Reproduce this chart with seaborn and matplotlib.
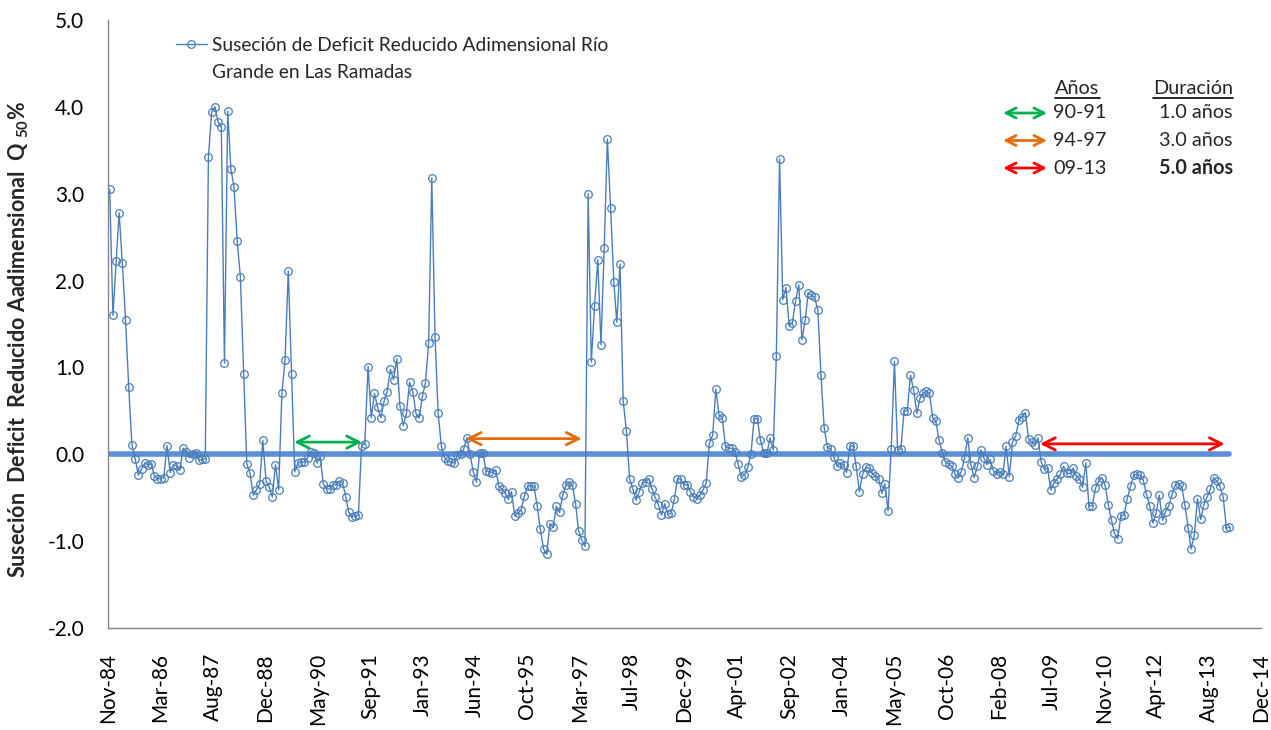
import pandas as pd
import matplotlib
matplotlib.use('Agg')
import matplotlib.pyplot as plt
import matplotlib.dates as mdates
import seaborn as sns

seg_84_87 = [3.05, 1.60, 2.23, 2.78, 2.20, 1.55, 0.77, 0.11, -0.05, -0.24, -0.17, -0.10, -0.12, -0.11,
             -0.25, -0.28, -0.28, -0.27, 0.10, -0.21, -0.12, -0.13, -0.18, 0.07, 0.03, -0.04, 0.00, 0.02,
             -0.07, -0.06, -0.05, 3.42, 3.94, 4.00, 3.83]
seg_87_90 = [3.77, 1.05, 3.95, 3.28, 3.08, 2.45, 2.04, 0.93, -0.11, -0.22, -0.47, -0.41, -0.34, 0.16,
             -0.31, -0.38, -0.49, -0.12, -0.41, 0.70, 1.09, 2.11, 0.93, -0.20, -0.10, -0.09, -0.09, -0.04,
             0.03, 0.01, -0.10, -0.02, -0.34, -0.40, -0.40]
seg_90_93 = [-0.35, -0.35, -0.31, -0.33, -0.49, -0.67, -0.72, -0.71, -0.70, 0.10, 0.12, 1.01, 0.42, 0.70,
             0.54, 0.42, 0.61, 0.72, 0.98, 0.86, 1.10, 0.56, 0.33, 0.47, 0.83, 0.72, 0.47, 0.42, 0.67,
             0.82, 1.28, 3.18, 1.35, 0.47, 0.09]
seg_93_96 = [-0.04, -0.08, -0.09, -0.10, -0.01, 0.00, 0.06, 0.19, 0.00, -0.20, -0.32, 0.01, 0.01, -0.19,
             -0.20, -0.21, -0.18, -0.37, -0.40, -0.44, -0.52, -0.43, -0.71, -0.68, -0.64, -0.48, -0.37,
             -0.36, -0.37, -0.60, -0.86, -1.09, -1.15, -0.80]
seg_96_99 = [-0.84, -0.60, -0.67, -0.47, -0.35, -0.32, -0.35, -0.57, -0.88, -0.99, -1.06, 3.00, 1.06, 1.71,
             2.24, 1.26, 2.37, 3.63, 2.84, 1.98, 1.52, 2.19, 0.61, 0.27, -0.28, -0.40, -0.53, -0.43, -0.33,
             -0.32, -0.28, -0.40, -0.49, -0.58, -0.70]
seg_99_02 = [-0.57, -0.69, -0.68, -0.52, -0.28, -0.29, -0.35, -0.35, -0.43, -0.49, -0.51, -0.47, -0.41,
             -0.33, 0.13, 0.22, 0.75, 0.45, 0.42, 0.09, 0.07, 0.07, 0.03, -0.11, -0.26, -0.24, -0.15, 0.00,
             0.41, 0.41, 0.16, 0.02, 0.01, 0.19]
seg_02_05 = [0.05, 1.13, 3.40, 1.78, 1.92, 1.48, 1.51, 1.77, 1.95, 1.32, 1.55, 1.86, 1.83, 1.81, 1.66,
             0.91, 0.30, 0.08, 0.06, -0.03, -0.14, -0.10, -0.12, -0.21, 0.09, 0.10, -0.14, -0.43, -0.23,
             -0.15, -0.16, -0.22, -0.25, -0.28, -0.45]
seg_05_08 = [-0.34, -0.65, 0.06, 1.07, 0.05, 0.06, 0.50, 0.50, 0.91, 0.74, 0.47, 0.65, 0.70, 0.73, 0.70,
             0.42, 0.38, 0.16, 0.02, -0.09, -0.11, -0.14, -0.23, -0.27, -0.20, -0.04, 0.19, -0.12, -0.27,
             -0.14, 0.05, -0.04, -0.12, -0.06]
seg_08_11 = [-0.19, -0.23, -0.20, -0.23, 0.09, -0.26, 0.14, 0.21, 0.40, 0.43, 0.48, 0.18, 0.14, 0.11,
             0.19, -0.09, -0.17, -0.16, -0.41, -0.33, -0.28, -0.23, -0.14, -0.22, -0.22, -0.16, -0.25,
             -0.28, -0.38, -0.10, -0.60, -0.59, -0.39, -0.31]
seg_11_14 = [-0.27, -0.35, -0.58, -0.76, -0.91, -0.97, -0.71, -0.70, -0.51, -0.37, -0.24, -0.23, -0.24,
             -0.30, -0.46, -0.60, -0.79, -0.68, -0.47, -0.76, -0.66, -0.59, -0.46, -0.35, -0.34, -0.37,
             -0.58, -0.85, -1.09, -0.93, -0.51, -0.75, -0.58, -0.49, -0.40, -0.27, -0.31, -0.37, -0.49,
             -0.85, -0.84]

first_month = '1984-11-30'
series_label = ['Suseción de Deficit Reducido Adimensional Río', 'Grande en Las Ramadas']

axis_start = '1984-11-14'
tick_step_days = 500
x_tick_labels = ['Nov-84', 'Mar-86', 'Aug-87', 'Dec-88', 'May-90', 'Sep-91', 'Jan-93', 'Jun-94',
                 'Oct-95', 'Mar-97', 'Jul-98', 'Dec-99', 'Apr-01', 'Sep-02', 'Jan-04', 'May-05',
                 'Oct-06', 'Feb-08', 'Jul-09', 'Nov-10', 'Apr-12', 'Aug-13', 'Dec-14']
y_ticks = [-2.0, -1.0, 0.0, 1.0, 2.0, 3.0, 4.0, 5.0]

# drought periods marked with arrows
period_years = ['90-91', '94-97', '09-13']
period_durations = ['1.0 años', '3.0 años', '5.0 años']
period_starts = ['1989-09-24', '1994-03-20', '2009-03-20']
period_ends = ['1991-07-04', '1997-03-30', '2014-01-15']
period_levels = [0.14, 0.18, 0.12]
period_colors = ['#00b050', '#e46c0a', '#ff0000']

values = (seg_84_87 + seg_87_90 + seg_90_93 + seg_93_96 + seg_96_99 + seg_99_02 +
          seg_02_05 + seg_05_08 + seg_08_11 + seg_11_14)
df = pd.DataFrame({'fecha': pd.date_range(first_month, periods=len(values), freq='ME'),
                   'valor': values})
df['cero'] = 0.0

sns.set_style('white')
plt.rcParams['font.family'] = ['Lato', 'DejaVu Sans']
plt.rcParams['mathtext.fontset'] = 'custom'
plt.rcParams['mathtext.bf'] = 'Lato:bold'
plt.rcParams['mathtext.rm'] = 'Lato'

W, H = 1271, 730
fig = plt.figure(figsize=(W / 100, H / 100), dpi=100)
ax = fig.add_axes([108 / W, 1 - 628 / H, 1153 / W, 608 / H])

line_color = '#4a7ebb'
sns.lineplot(data=df, x='fecha', y='cero', ax=ax, color='#5b8fd6', lw=4, zorder=2)
sns.lineplot(data=df, x='fecha', y='valor', ax=ax, color=line_color, lw=1, marker='o',
             markersize=5.5, markerfacecolor='none', markeredgecolor=line_color,
             markeredgewidth=0.9, label=series_label[0], zorder=3)

for s, e, lvl, c in zip(period_starts, period_ends, period_levels, period_colors):
    ax.annotate('', xy=(mdates.date2num(pd.Timestamp(e)), lvl),
                xytext=(mdates.date2num(pd.Timestamp(s)), lvl),
                arrowprops=dict(arrowstyle='<->', color=c, lw=2, mutation_scale=22,
                                shrinkA=0, shrinkB=0), zorder=4)

x0 = pd.Timestamp(axis_start)
tick_dates = [x0 + pd.Timedelta(days=tick_step_days * k) for k in range(len(x_tick_labels))]
ax.set_xlim(x0, tick_dates[-1])
ax.set_xticks(tick_dates)
ax.set_xticklabels(x_tick_labels, rotation=90, fontsize=15)
ax.set_ylim(-2.0, 5.0)
ax.set_yticks(y_ticks)
ax.set_yticklabels([f'{v:.1f}' for v in y_ticks], fontsize=15)
ax.set_xlabel('')
ax.set_ylabel(r'Suseción  Deficit  Reducido Aadimensional  Q $\mathbf{_{50}}$%',
              fontsize=15.5, fontweight='bold')
ax.yaxis.set_label_coords((31 - 108) / 1153, (628 - 340) / 608)

sns.despine(ax=ax, top=True, right=True)
for side in ['left', 'bottom']:
    ax.spines[side].set_color('#868686')
    ax.spines[side].set_linewidth(1)
ax.tick_params(axis='both', which='major', direction='out', length=6, width=1,
               color='#868686', labelcolor='black')
ax.tick_params(axis='x', pad=12)
ax.tick_params(axis='y', pad=11)

tx = lambda px: (px - 108) / 1153
ty = lambda py: (628 - py) / 608

leg = ax.legend(loc='upper left', bbox_to_anchor=(tx(176), ty(37)), frameon=False, fontsize=13.8,
                handlelength=1.6, handletextpad=0.3, borderaxespad=0, borderpad=0)
fig.canvas.draw()
ext = leg.get_texts()[0].get_window_extent()
ax.text(ext.x0 / W, ext.y0 / H - 27 / H, series_label[1], transform=fig.transFigure,
        ha='left', va='bottom', fontsize=13.8)

# period table
ax.text(tx(1077), ty(88), 'Años', transform=ax.transAxes, ha='center', va='center', fontsize=14.3)
ax.text(tx(1193), ty(88), 'Duración', transform=ax.transAxes, ha='center', va='center', fontsize=14.3)
ax.plot([tx(1055), tx(1100)], [ty(98), ty(98)], transform=ax.transAxes, color='black', lw=1.2)
ax.plot([tx(1153), tx(1233)], [ty(98), ty(98)], transform=ax.transAxes, color='black', lw=1.2)
for i, (yr, dur, c) in enumerate(zip(period_years, period_durations, period_colors)):
    row_y = ty(113 + 27.5 * i)
    ax.annotate('', xy=(tx(1047), row_y), xytext=(tx(1003), row_y), xycoords='axes fraction',
                textcoords='axes fraction',
                arrowprops=dict(arrowstyle='<->', color=c, lw=2, mutation_scale=18,
                                shrinkA=0, shrinkB=0))
    ax.text(tx(1053), row_y, yr, transform=ax.transAxes, ha='left', va='center', fontsize=14.3)
    ax.text(tx(1196), row_y, dur, transform=ax.transAxes, ha='center', va='center', fontsize=14.3,
            fontweight='bold' if i == len(period_years) - 1 else 'normal')

fig.savefig('out.png', dpi=100)
